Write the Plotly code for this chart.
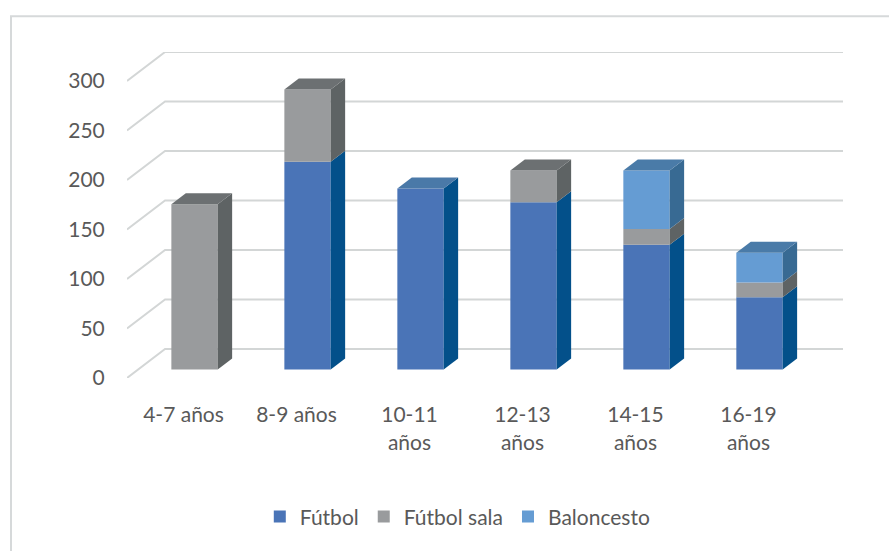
import plotly.graph_objects as go

# ---- data ----
categories = ["4-7 años", "8-9 años", "10-11<br>años", "12-13<br>años", "14-15<br>años", "16-19<br>años"]
futbol = [0, 210, 183, 169, 126, 73]
futbol_sala = [167, 73, 0, 32, 16, 15]
baloncesto = [0, 0, 0, 0, 59, 30]
y_ticks = [0, 50, 100, 150, 200, 250, 300]

series = [
    ("Fútbol", futbol, "#4A74B7", "#03508A", "#4A79A8"),
    ("Fútbol sala", futbol_sala, "#999B9D", "#5E6364", "#6C7072"),
    ("Baloncesto", baloncesto, "#659CD3", "#386A93", "#4A7BA8"),
]

# ---- 3D projection style (oblique) ----
DX = 0.3366      # total depth, x (category units)
DY = 29.3        # total depth, y (value units)
FB = 0.29        # depth fraction of bar front face
BD = 0.38        # depth fraction of bar thickness
W = 0.41         # bar width (category units)
n = len(categories)
xs = list(range(n))

fig = go.Figure()

# back-wall grid lines with diagonal side-wall edges
for v in y_ticks:
    fig.add_shape(type="path", xref="x", yref="y", layer="below",
                  path=f"M{-0.5},{v} L{-0.5 + DX},{v + DY} L{n - 0.5 + DX},{v + DY}",
                  line=dict(color="#D3D6D6", width=2))

oy = FB * DY
ox = FB * DX
bdx = BD * DX
bdy = BD * DY

cum = [0.0] * n
tops = [None] * n
segs = []
for name, vals, cf, cs, ct in series:
    bases = [oy + c for c in cum]
    fig.add_trace(go.Bar(
        x=[x + ox for x in xs], y=vals, base=bases, width=W, name=name,
        marker=dict(color=cf, line=dict(width=0)), hoverinfo="skip"))
    for i in range(n):
        if vals[i] > 0:
            segs.append((i, cum[i], cum[i] + vals[i], cs))
            tops[i] = (cum[i] + vals[i], ct)
        cum[i] += vals[i]

# side faces
for i, b0, b1, cs in segs:
    xr = xs[i] + ox + W / 2
    fig.add_trace(go.Scatter(
        x=[xr, xr + bdx, xr + bdx, xr, xr],
        y=[b0 + oy, b0 + oy + bdy, b1 + oy + bdy, b1 + oy, b0 + oy],
        fill="toself", fillcolor=cs, mode="lines", line=dict(width=0, color=cs),
        showlegend=False, hoverinfo="skip"))
# top faces
for i in range(n):
    if tops[i] is None:
        continue
    t, ct = tops[i]
    xl = xs[i] + ox - W / 2
    xr = xs[i] + ox + W / 2
    fig.add_trace(go.Scatter(
        x=[xl, xl + bdx, xr + bdx, xr, xl],
        y=[t + oy, t + oy + bdy, t + oy + bdy, t + oy, t + oy],
        fill="toself", fillcolor=ct, mode="lines", line=dict(width=0, color=ct),
        showlegend=False, hoverinfo="skip"))

# chart border
fig.add_shape(type="rect", xref="paper", yref="paper",
              x0=-0.162, x1=1.2, y0=-0.7, y1=1.11,
              line=dict(color="#D6D9DA", width=2), fillcolor="rgba(0,0,0,0)", layer="below")

fig.update_layout(
    width=889, height=551,
    margin=dict(l=127, r=46, t=52, b=173),
    paper_bgcolor="white", plot_bgcolor="white",
    barmode="overlay",
    font=dict(family="Lato", size=21, color="#595959"),
    xaxis=dict(range=[-0.5, n - 0.5 + DX], tickmode="array", tickvals=xs, ticktext=categories,
               showgrid=False, zeroline=False, showline=False,
               ticks="outside", ticklen=18, tickcolor="rgba(0,0,0,0)", fixedrange=True),
    yaxis=dict(range=[0, 300 + DY], tickmode="array", tickvals=y_ticks,
               showgrid=False, zeroline=False, showline=False,
               ticks="outside", ticklen=17, tickcolor="rgba(0,0,0,0)", fixedrange=True),
    legend=dict(orientation="h", x=0.462, xanchor="center", y=-0.426, yanchor="middle",
                font=dict(size=21, color="#595959"), traceorder="normal", itemwidth=30),
    showlegend=True,
)

fig.write_html("out.html", config={"displayModeBar": False, "staticPlot": True},
               post_script="document.body.style.margin='0';document.body.style.overflow='hidden';")
